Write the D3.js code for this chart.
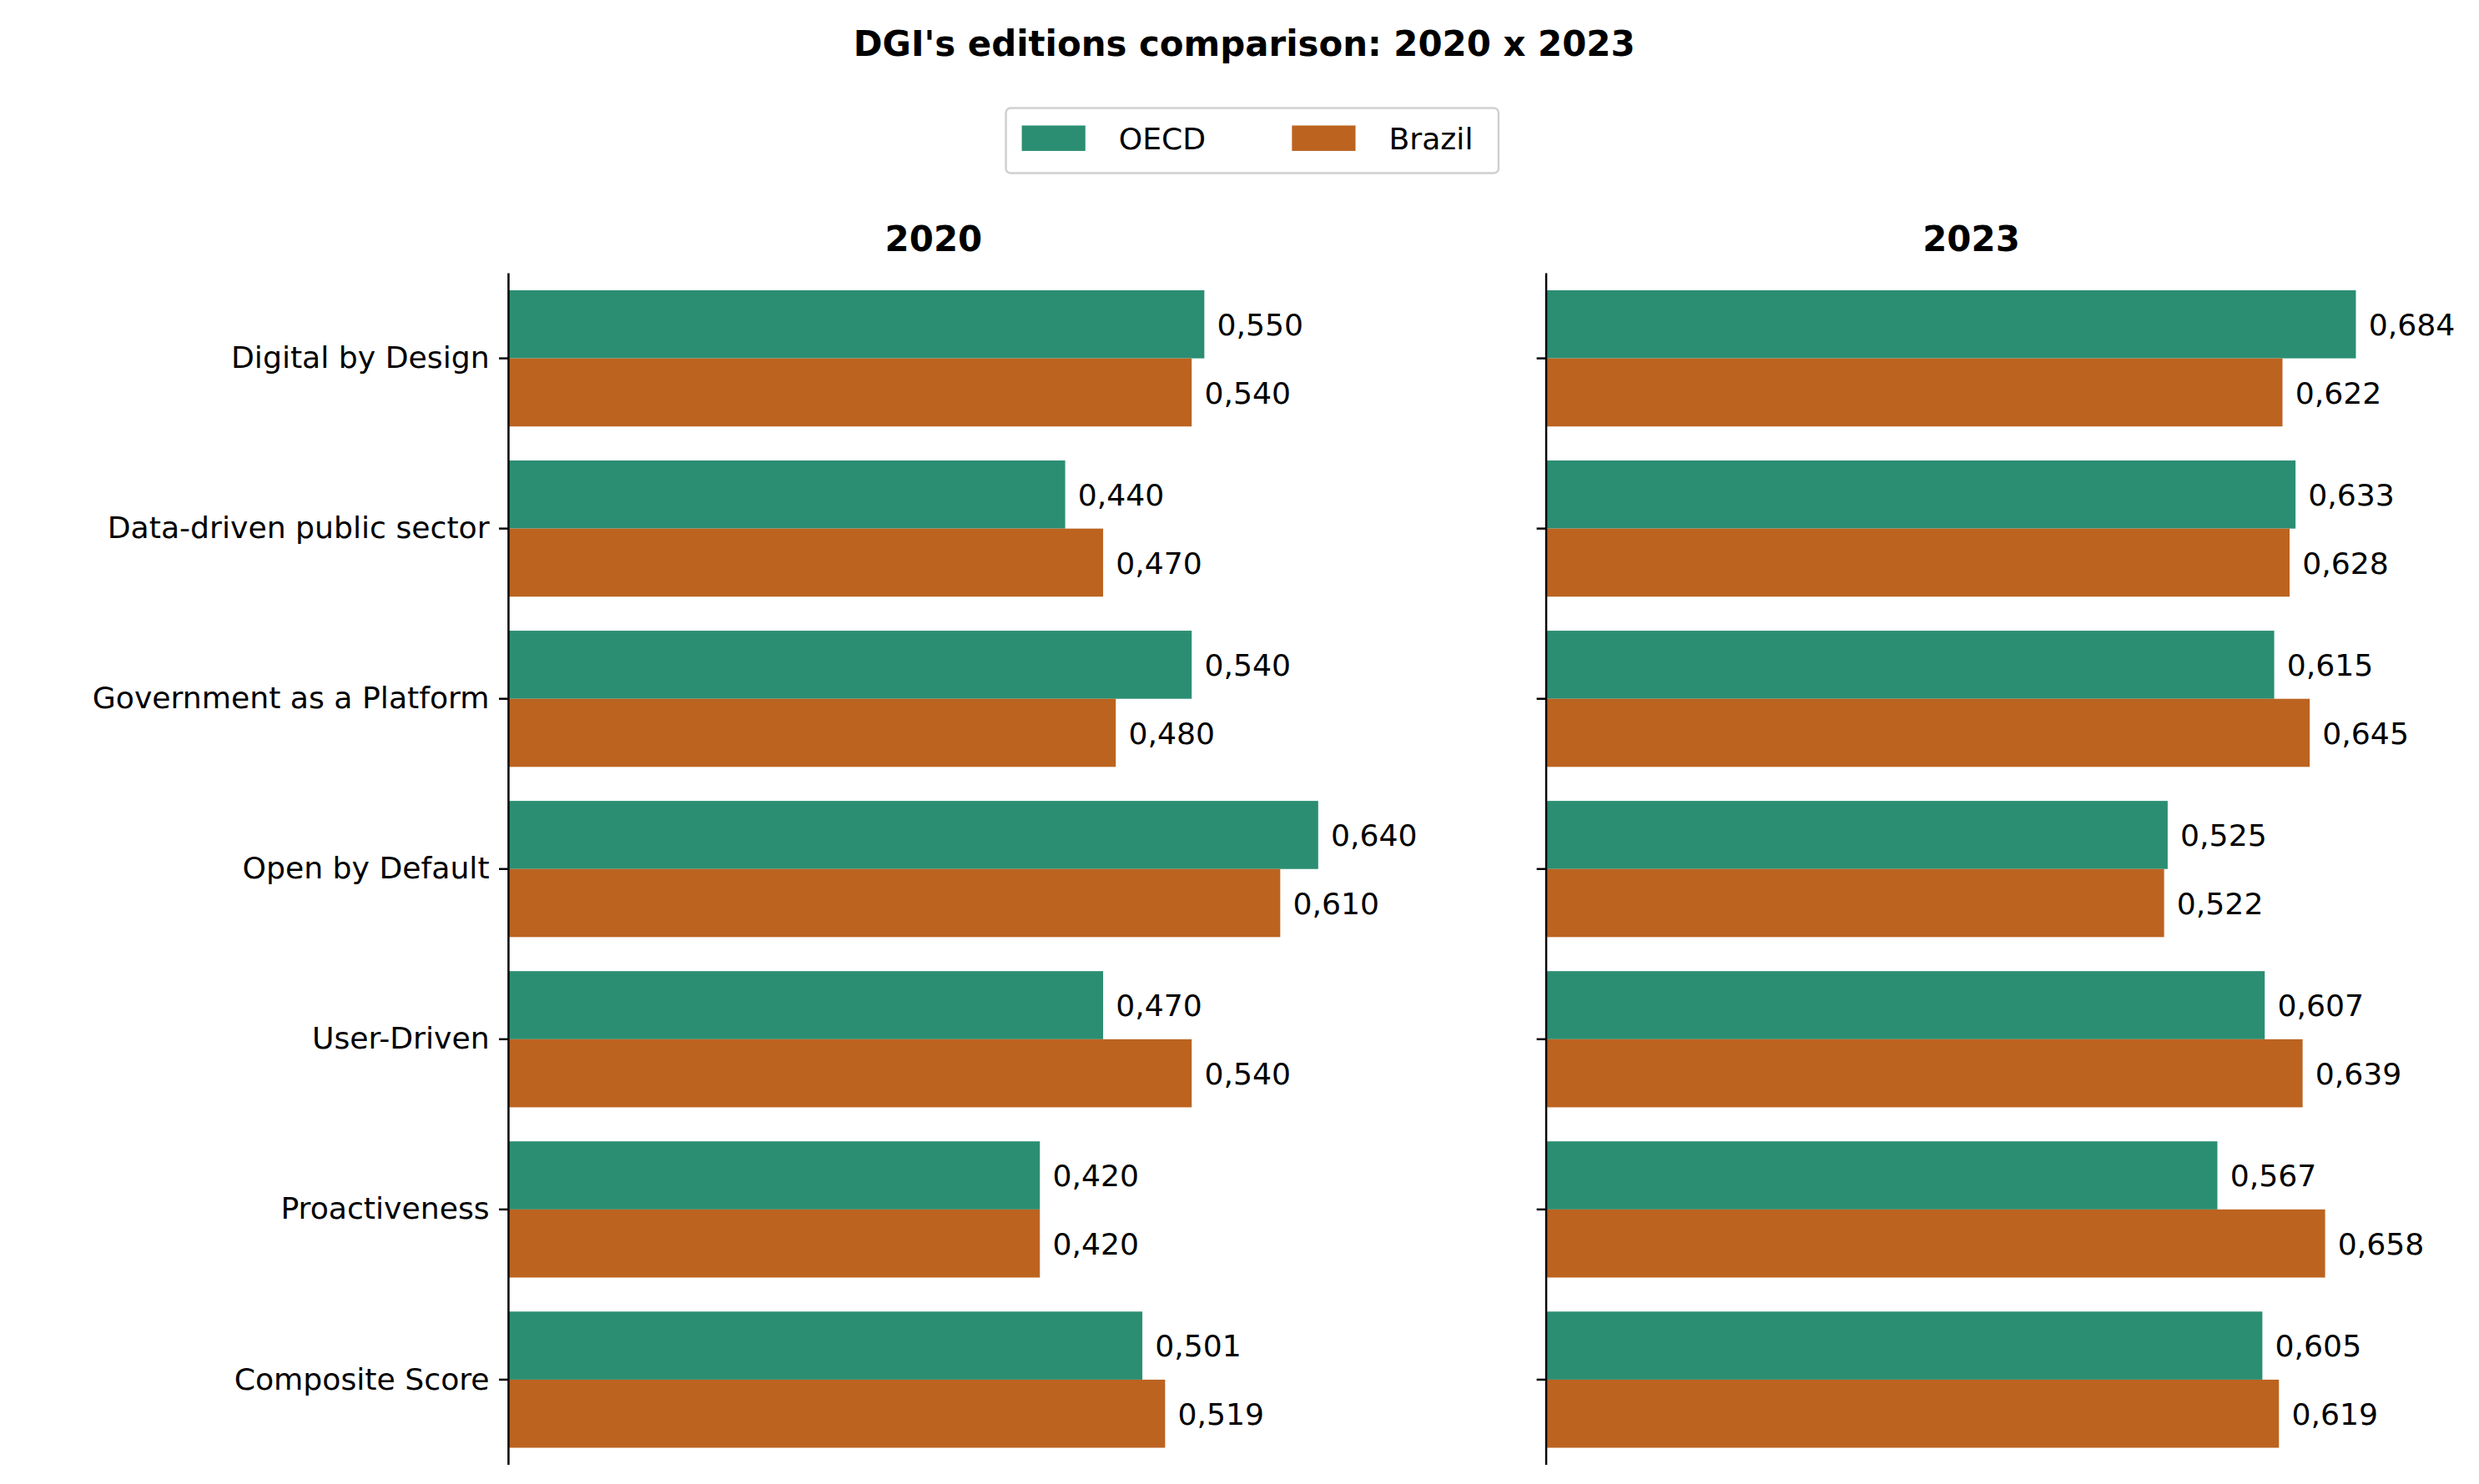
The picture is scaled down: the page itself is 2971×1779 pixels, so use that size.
<!DOCTYPE html>
<html><head><meta charset="utf-8">
<script src="https://cdn.jsdelivr.net/npm/d3@7"></script>
<style>body{margin:0;background:#fff} text{font-family:"DejaVu Sans",sans-serif}</style>
</head><body><svg id="chart"></svg>
<script>
const categories = ['Digital by Design','Data-driven public sector','Government as a Platform','Open by Default','User-Driven','Proactiveness','Composite Score'];
const series = ['OECD','Brazil'];
const colors = ['#2b8e72','#bc6320'];
const oecd2020 = [0.550,0.440,0.540,0.640,0.470,0.420,0.501];
const brazil2020 = [0.540,0.470,0.480,0.610,0.540,0.420,0.519];
const oecd2023 = [0.684,0.633,0.615,0.525,0.607,0.567,0.605];
const brazil2023 = [0.622,0.628,0.645,0.522,0.639,0.658,0.619];
const panels = [
  {title:'2020', left:320, vals:[oecd2020, brazil2020]},
  {title:'2023', left:973, vals:[oecd2023, brazil2023]}
];

const S = 2971/1560;
const svg = d3.select('#chart').attr('width',2971).attr('height',1779);
const g = svg.append('g').attr('transform',`scale(${S})`);
const fmt = v => d3.format('.3f')(v).replace('.',',');

g.append('text').attr('x',783).attr('y',35).attr('text-anchor','middle')
  .style('font-size','22px').style('font-weight','bold').text("DGI's editions comparison: 2020 x 2023");

// legend
const lg = g.append('g');
lg.append('rect').attr('x',633).attr('y',68).attr('width',310).attr('height',41).attr('rx',3)
  .attr('fill','#fff').attr('stroke','#d0d0d0').attr('stroke-width',1.3);
series.forEach((s,i)=>{
  const x0 = 643 + i*170;
  lg.append('rect').attr('x',x0).attr('y',79).attr('width',40).attr('height',16).attr('fill',colors[i]);
  lg.append('text').attr('x',x0+61).attr('y',94).style('font-size','19px').text(s);
});

const plotTop = 172, plotBottom = 922, pw = 535;
const y = d3.scaleBand().domain(categories).range([plotTop,plotBottom]).paddingInner(0.2).paddingOuter(0.1);
const half = y.bandwidth()/2;

panels.forEach((p,pi)=>{
  const xmax = d3.max(p.vals.flat())*1.05;
  const x = d3.scaleLinear().domain([0,xmax]).range([p.left,p.left+pw]);
  const pg = g.append('g');
  pg.append('text').attr('x',p.left+pw/2).attr('y',158).attr('text-anchor','middle')
    .style('font-size','22px').style('font-weight','bold').text(p.title);
  p.vals.forEach((arr,si)=>{
    pg.selectAll(null).data(arr).enter().append('rect')
      .attr('x',x(0)).attr('y',(d,i)=>y(categories[i])+si*half)
      .attr('width',d=>x(d)-x(0)).attr('height',half).attr('fill',colors[si]);
    pg.selectAll(null).data(arr).enter().append('text')
      .attr('x',d=>x(d)+8).attr('y',(d,i)=>y(categories[i])+si*half+half/2+7)
      .style('font-size','19px').text(fmt);
  });
  const ax = d3.axisLeft(y).tickSize(6).tickPadding(6).tickFormat(pi===0?null:'');
  const a = pg.append('g').attr('transform',`translate(${p.left},0)`).call(ax);
  a.select('.domain').attr('d',`M0,${plotTop}V${plotBottom}`).attr('stroke-width',1.3);
  a.selectAll('.tick line').attr('stroke-width',1.3);
  a.selectAll('.tick text').style('font-size','19px').style('font-family','"DejaVu Sans"');
});
</script></body></html>
